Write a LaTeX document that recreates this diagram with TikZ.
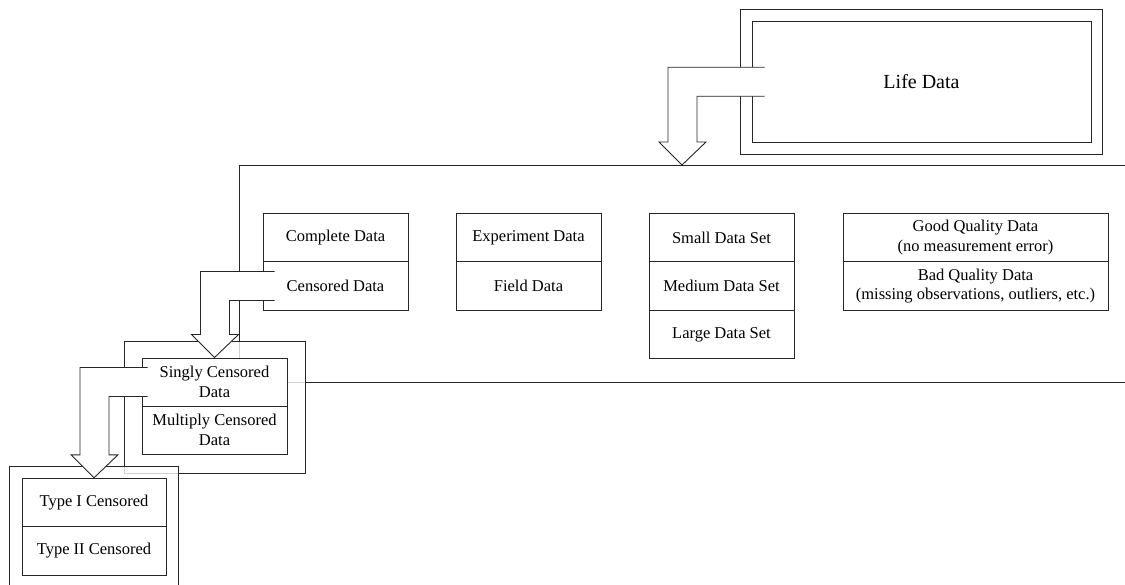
\documentclass[tikz,border=0pt]{standalone}
\usepackage{fontspec}
\setmainfont{Liberation Serif}
\usetikzlibrary{calc}
\newcommand{\cellfont}{\fontsize{16.5pt}{19.5pt}\selectfont}
\newcommand{\titlefont}{\fontsize{20pt}{24pt}\selectfont}
\tikzset{
  ln/.style={draw=black!85, line width=0.9pt},
  cell/.style={ln, fill=white, minimum width=145, minimum height=48.5,
    inner sep=0pt, align=center, font=\cellfont},
  frame/.style={ln, fill=white, fill opacity=0.78, draw opacity=1},
  barrow/.style={ln, fill=white, line join=miter},
}
% block arrow: leaves the west side of #1 (entering it by #2), bends down and points at #3
\newcommand{\blockarrow}[3]{%
  \path[barrow] let \p1=(#1.west), \p2=(#3) in
    (\x1+#2,\y1+14.5pt) -- (\x2-14pt,\y1+14.5pt) -- (\x2-14pt,\y2+23pt)
    -- (\x2-23pt,\y2+23pt) -- (\p2) -- (\x2+24pt,\y2+23pt) -- (\x2+15pt,\y2+23pt)
    -- (\x2+15pt,\y1-14.5pt) -- (\x1+#2,\y1-14.5pt);}
\begin{document}
\begin{tikzpicture}[x=1pt, y=-1pt]
\useasboundingbox (0,0) rectangle (1125,585);

% top level
\draw[ln, fill=white] (740,9.5) rectangle (1102,154);
\node[ln, fill=white, minimum width=339, minimum height=120.5, inner sep=0pt,
  font=\titlefont] (life) at (921.5,81.75) {Life Data};

% second level: classification of life data
\coordinate (lvltwo) at (682,165);
\draw[ln] (1126,165) -- (239,165) -- (239,382) -- (1126,382);

\node[cell] (complete) at (335.5,237.5) {Complete Data};
\node[cell] (censored) at (335.5,286) {Censored Data};
\node[cell] (experiment) at (528.5,237.5) {Experiment Data};
\node[cell] (field) at (528.5,286) {Field Data};
\node[cell] (small) at (721.5,237.5) {Small Data Set};
\node[cell] (medium) at (721.5,286) {Medium Data Set};
\node[cell] (large) at (721.5,334.5) {Large Data Set};
\node[cell, minimum width=265] (good) at (975.5,237.5) {Good Quality Data\\(no measurement error)};
\node[cell, minimum width=265] (bad) at (975.5,286) {Bad Quality Data\\(missing observations, outliers, etc.)};

% third level: censored data
\path[frame] (124,341) rectangle (305,473.5);
\node[cell, minimum height=48] (single) at (214.5,382) {Singly Censored\\Data};
\node[cell, minimum height=48] (multiple) at (214.5,430) {Multiply Censored\\Data};

% fourth level: singly censored data
\path[frame] (9,590) -- (9,466.5) -- (178,466.5) -- (178,590);
\node[cell, minimum width=144] (typeone) at (94,502.5) {Type I Censored};
\node[cell, minimum width=144] (typetwo) at (94,551) {Type II Censored};

% block arrows between levels
\blockarrow{life}{13pt}{lvltwo}
\blockarrow{censored}{12pt}{single.north}
\blockarrow{single}{6pt}{typeone.north}
\end{tikzpicture}
\end{document}
